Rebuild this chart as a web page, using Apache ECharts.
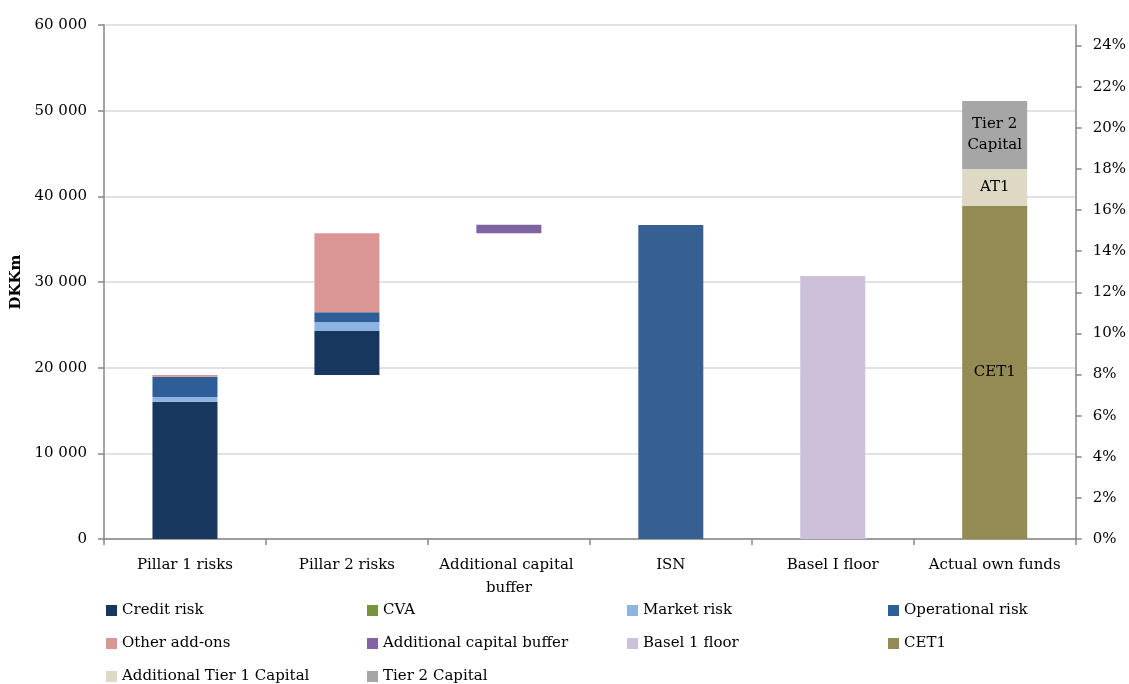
<!DOCTYPE html>
<html>
<head>
<meta charset="utf-8">
<script src="https://cdn.jsdelivr.net/npm/echarts@6/dist/echarts.min.js"></script>
<style>html,body{margin:0;padding:0;background:#fff}#c{width:1129px;height:684px}</style>
</head>
<body>
<div id="c"></div>
<script>
const categories = ['Pillar 1 risks', 'Pillar 2 risks', 'Additional capital buffer', 'ISN', 'Basel I floor', 'Actual own funds'];
const base       = [0, 19140, 35685, 0, 0, 0];
const creditRisk = [16030, 5140, 0, 0, 0, 0];
const cva        = [0, 0, 0, 0, 0, 0];
const marketRisk = [550, 1050, 0, 0, 0, 0];
const operationalRisk = [2370, 1130, 0, 0, 0, 0];
const otherAddOns = [190, 9225, 0, 0, 0, 0];
const additionalBuffer = [0, 0, 1000, 0, 0, 0];
const isn        = [0, 0, 0, 36650, 0, 0];
const basel1Floor = [0, 0, 0, 0, 30700, 0];
const cet1       = [0, 0, 0, 0, 0, 38870];
const at1        = [0, 0, 0, 0, 0, 4320];
const tier2      = [0, 0, 0, 0, 0, 7940];
const leftTicks = {min: 0, max: 60000, interval: 10000};
const rightTicks = {min: 0, max: 0.25, interval: 0.02};

const FONT = 'DejaVu Serif';
const txt = {fontFamily: FONT, fontSize: 15, color: '#000'};

function bar(name, data, color, labelText) {
  const s = {
    name: name, type: 'bar', stack: 'total', data: data, barWidth: 65,
    itemStyle: {color: color},
    emphasis: {disabled: true}
  };
  if (labelText) {
    s.label = {show: true, position: 'inside', fontFamily: FONT, fontSize: 15, color: '#000', lineHeight: 21,
      formatter: p => (p.value ? labelText : '')};
  }
  return s;
}

const series = [
  {name: 'base', type: 'bar', stack: 'total', data: base, barWidth: 65, itemStyle: {color: 'transparent'}, emphasis: {disabled: true}, silent: true},
  bar('Credit risk', creditRisk, '#17375E'),
  bar('CVA', cva, '#77933C'),
  bar('Market risk', marketRisk, '#8DB4E2'),
  bar('Operational risk', operationalRisk, '#2E5E98'),
  bar('Other add-ons', otherAddOns, '#DA9694'),
  bar('Additional capital buffer', additionalBuffer, '#8064A2'),
  bar('ISN', isn, '#376092'),
  bar('Basel 1 floor', basel1Floor, '#CCC0DA'),
  bar('CET1', cet1, '#948A54', 'CET1'),
  bar('Additional Tier 1 Capital', at1, '#DDD9C4', 'AT1'),
  bar('Tier 2 Capital', tier2, '#A6A6A6', 'Tier 2\nCapital')
];

function legend(left, names) {
  return {
    orient: 'vertical', left: left, top: 603, itemGap: 18, itemWidth: 11, itemHeight: 11,
    icon: 'rect', selectedMode: false, padding: 0,
    textStyle: {fontFamily: FONT, fontSize: 15, color: '#000', lineHeight: 15},
    data: names
  };
}

const chart = echarts.init(document.getElementById('c'), null, {renderer: 'canvas'});
chart.setOption({
  animation: false,
  backgroundColor: '#fff',
  grid: {left: 104, right: 52, top: 25, bottom: 145, containLabel: false},
  legend: [
    legend(106, ['Credit risk', 'Other add-ons', 'Additional Tier 1 Capital']),
    legend(367, ['CVA', 'Additional capital buffer', 'Tier 2 Capital']),
    legend(627, ['Market risk', 'Basel 1 floor']),
    legend(888, ['Operational risk', 'CET1'])
  ],
  xAxis: {
    type: 'category', data: categories,
    axisLine: {lineStyle: {color: '#868686', width: 1.5}},
    axisTick: {show: true, length: 6, lineStyle: {color: '#868686', width: 1.5}},
    axisLabel: Object.assign({}, txt, {margin: 15, lineHeight: 23, width: 155, overflow: 'break', interval: 0})
  },
  yAxis: [
    {
      type: 'value', min: leftTicks.min, max: leftTicks.max, interval: leftTicks.interval,
      name: 'DKKm', nameLocation: 'middle', nameGap: 67,
      nameTextStyle: {fontFamily: FONT, fontSize: 15, fontWeight: 'bold', color: '#000'},
      axisLine: {show: true, lineStyle: {color: '#868686', width: 1.5}},
      axisTick: {show: true, length: 6, lineStyle: {color: '#868686', width: 1.5}},
      splitLine: {show: true, lineStyle: {color: '#D9D9D9', width: 1.5}},
      axisLabel: Object.assign({}, txt, {margin: 17,
        formatter: v => String(v).replace(/\B(?=(\d{3})+(?!\d))/g, ' ')})
    },
    {
      type: 'value', position: 'right', min: rightTicks.min, max: rightTicks.max, interval: rightTicks.interval,
      axisLine: {show: true, lineStyle: {color: '#868686', width: 1.5}},
      axisTick: {show: true, length: 6, lineStyle: {color: '#868686', width: 1.5}},
      splitLine: {show: false},
      axisLabel: Object.assign({}, txt, {margin: 17, showMaxLabel: false,
        formatter: v => Math.round(v * 100) + '%'})
    }
  ],
  series: series
});
</script>
</body>
</html>
